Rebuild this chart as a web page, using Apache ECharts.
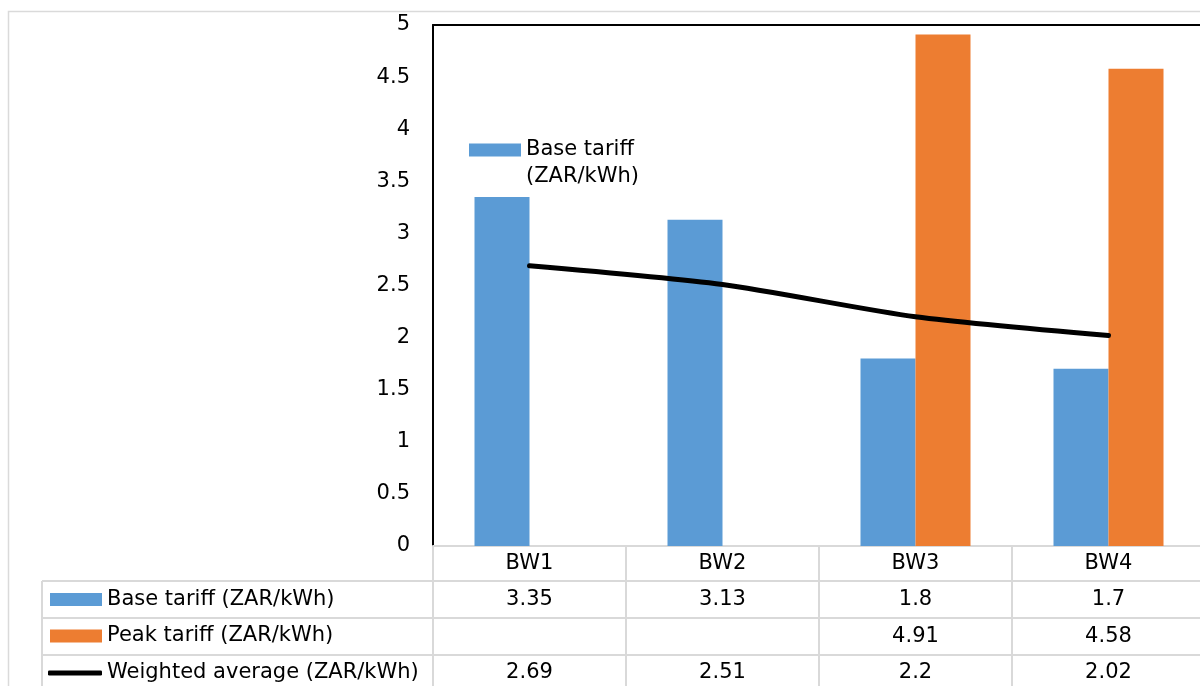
<!DOCTYPE html>
<html>
<head>
<meta charset="utf-8">
<script src="https://cdn.jsdelivr.net/npm/echarts@6/dist/echarts.min.js"></script>
<style>
  html, body { margin: 0; padding: 0; background: #ffffff; overflow: hidden; }
  /* the chart runs slightly past the right edge of the window, the plot area is cut off there */
  #chart { width: 1210px; height: 686px; }
</style>
</head>
<body>
<div id="chart"></div>
<script>
// Tariff data per site
const categories = ['BW1', 'BW2', 'BW3', 'BW4'];
const baseTariff = [3.35, 3.13, 1.8, 1.7];
const peakTariff = [null, null, 4.91, 4.58];
const weightedAverage = [2.69, 2.51, 2.2, 2.02];
const seriesNames = ['Base tariff (ZAR/kWh)', 'Peak tariff (ZAR/kWh)', 'Weighted average (ZAR/kWh)'];

// Layout of the plot area and the data table beneath it
const FONT = 'DejaVu Sans';
const FS = 21;
const plot = { left: 433, top: 25, width: 772, height: 521 };
const plotBottom = plot.top + plot.height;
const rowLines = [581, 618, 655];          // horizontal rules of the data table
const tableLeft = 42;
const gridColor = '#d9d9d9';

const textStyle = { fontFamily: FONT, fontSize: FS, color: '#000' };
const fmt = v => (v === null || v === undefined) ? '' : String(v);

// One extra x axis per table row: its labels print the row's values under each category
function tableAxis(values, offset, margin) {
  return {
    type: 'category', data: categories, position: 'bottom', offset: offset,
    axisLine: { show: false }, axisTick: { show: false }, splitLine: { show: false },
    axisLabel: Object.assign({}, textStyle, {
      interval: 0, margin: margin, verticalAlign: 'middle',
      formatter: (v, i) => fmt(values[i])
    })
  };
}

function rowLegend(name, left, centerY, extra) {
  return Object.assign({
    data: [{ name: name, icon: 'rect' }], left: left, top: centerY - 12, padding: 0, orient: 'horizontal',
    itemWidth: 52, itemHeight: 13, itemGap: 0, selectedMode: false,
    textStyle: Object.assign({}, textStyle, { lineHeight: 24 })
  }, extra || {});
}

const chart = echarts.init(document.getElementById('chart'), null, { renderer: 'canvas' });

chart.setOption({
  animation: false,
  backgroundColor: '#ffffff',
  grid: { left: plot.left, top: plot.top, width: plot.width, height: plot.height, containLabel: false },
  xAxis: [
    {
      // category header row + vertical table rules
      type: 'category', data: categories, position: 'bottom',
      axisLine: { show: true, lineStyle: { color: gridColor, width: 2 } },
      axisTick: { show: true, interval: 0, length: 150, lineStyle: { color: gridColor, width: 2 } },
      axisLabel: Object.assign({}, textStyle, { interval: 0, margin: 17.5, verticalAlign: 'middle' }),
      splitLine: { show: false }
    },
    {
      // top border of the plot area
      type: 'category', data: categories, position: 'top',
      axisLine: { show: true, lineStyle: { color: '#000', width: 2 } },
      axisTick: { show: false }, axisLabel: { show: false }, splitLine: { show: false }
    },
    tableAxis(baseTariff, rowLines[0] - plotBottom, 18.5),
    tableAxis(peakTariff, rowLines[1] - plotBottom, 18.5),
    tableAxis(weightedAverage, rowLines[2] - plotBottom, 18)
  ],
  yAxis: {
    type: 'value', min: 0, max: 5, interval: 0.5,
    axisLine: { show: true, lineStyle: { color: '#000', width: 2 } },
    axisTick: { show: false },
    splitLine: { show: false },
    axisLabel: Object.assign({}, textStyle, { margin: 23 })
  },
  legend: [
    rowLegend(seriesNames[0], 469, 150, { formatter: () => 'Base tariff' }),
    rowLegend(seriesNames[0], 50, 599.5),
    rowLegend(seriesNames[1], 50, 636),
    rowLegend(seriesNames[2], 48, 673, {
      data: [{ name: seriesNames[2], icon: 'roundRect' }],
      itemWidth: 54, itemHeight: 5
    })
  ],
  series: [
    {
      name: seriesNames[0], type: 'bar', xAxisIndex: 0, data: baseTariff,
      barWidth: 55, barGap: '0%',
      itemStyle: { color: '#5b9bd5' }
    },
    {
      name: seriesNames[1], type: 'bar', xAxisIndex: 0, data: peakTariff,
      barWidth: 55, barGap: '0%',
      itemStyle: { color: '#ed7d31' }
    },
    {
      name: seriesNames[2], type: 'line', xAxisIndex: 0, data: weightedAverage,
      smooth: 0.25, symbol: 'none',
      lineStyle: { color: '#000', width: 5, cap: 'round' },
      itemStyle: { color: '#000', borderWidth: 0 }
    }
  ],
  graphic: [
    // outer chart frame
    {
      type: 'polyline', silent: true,
      shape: { points: [[8.5, 700], [8.5, 11.5], [1215, 11.5]] },
      style: { stroke: '#dadada', lineWidth: 1.5, fill: null }
    },
    // horizontal rules of the data table
    ...rowLines.map(y => ({
      type: 'line', silent: true,
      shape: { x1: tableLeft, y1: y, x2: 1215, y2: y },
      style: { stroke: gridColor, lineWidth: 2 }
    })),
    // left edge of the table's legend column
    {
      type: 'line', silent: true,
      shape: { x1: tableLeft, y1: rowLines[0], x2: tableLeft, y2: 700 },
      style: { stroke: gridColor, lineWidth: 2 }
    },
    // second line of the in-plot legend entry
    {
      type: 'text', silent: true, left: 526, top: 166,
      style: { text: '(ZAR/kWh)', font: FS + 'px "' + FONT + '"', fill: '#000' }
    }
  ]
});
</script>
</body>
</html>
